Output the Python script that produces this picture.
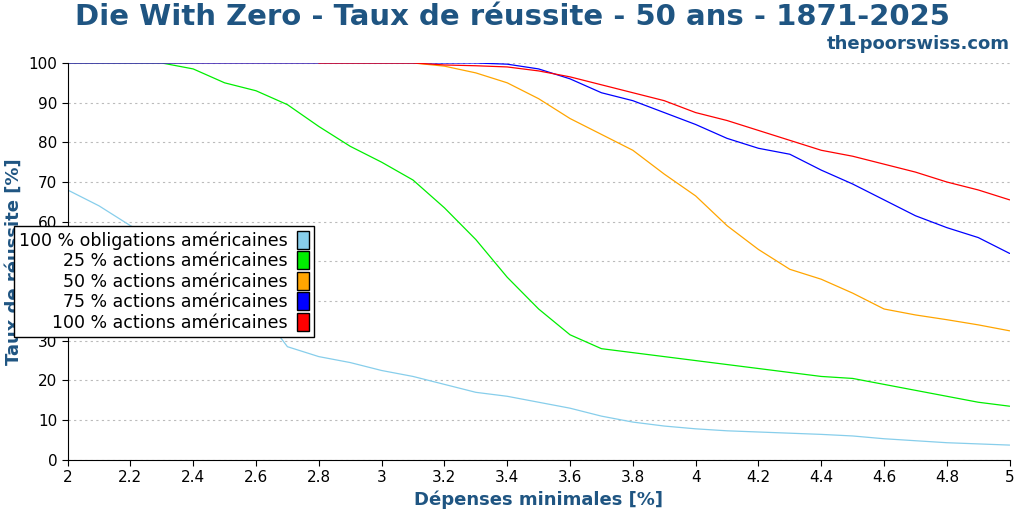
import numpy as np, pandas as pd, seaborn as sns, matplotlib
matplotlib.use("Agg")
import matplotlib.pyplot as plt

x = [round(2 + 0.1*i, 1) for i in range(31)]
bonds = [68,64,59,55,50,45,39,28.5,26,24.5,22.5,21,19,17,16,14.5,13,11,9.5,8.5,7.8,7.3,7,6.7,6.4,6,5.3,4.8,4.3,4,3.7]
s25 = [100,100,100,100,98.5,95,93,89.5,84,79,75,70.5,63.5,55.5,46,38,31.5,28,27,26,25,24,23,22,21,20.5,19,17.5,16,14.5,13.5]
s50 = [100]*12 + [99.2,97.5,95,91,86,82,78,72,66.5,59,53,48,45.5,42,38,36.5,35.3,34,32.5]
s75 = [100]*14 + [99.7,98.5,96,92.5,90.5,87.5,84.5,81,78.5,77,73,69.5,65.5,61.5,58.5,56,52]
s100 = [np.nan]*8 + [100]*4 + [99.5,99.3,99,98,96.5,94.5,92.5,90.5,87.5,85.5,83,80.5,78,76.5,74.5,72.5,70,68,65.5]
names = ["100 % obligations américaines","25 % actions américaines","50 % actions américaines","75 % actions américaines","100 % actions américaines"]
colors = ["skyblue","#00ee00","orange","blue","red"]

sns.set_style("white")
plt.rcParams.update({"text.color":"black","axes.labelcolor":"black","xtick.color":"black","ytick.color":"black"})
fig, ax = plt.subplots(figsize=(10.24,5.12), dpi=100)
fig.subplots_adjust(left=0.066, right=0.986, top=0.877, bottom=0.102)
for n, s, c in zip(names, [bonds,s25,s50,s75,s100], colors):
    sns.lineplot(x=x, y=s, color=c, lw=0.9, ax=ax, label=n)
ax.set_xlim(2,5); ax.set_ylim(0,100)
ax.set_xticks(np.arange(2,5.01,0.2)); ax.set_xticklabels([f"{v:g}" for v in np.arange(2,5.01,0.2).round(1)])
ax.set_yticks(range(0,101,10))
ax.yaxis.grid(True, ls=(0,(2,3)), color="#bbbbbb", lw=0.8)
for s in ["top","right"]: ax.spines[s].set_visible(False)
ax.spines["left"].set_color("black"); ax.spines["bottom"].set_color("black")
ax.tick_params(axis="both", direction="out", length=4, labelsize=11, left=True, bottom=True)
ax.set_xlabel("Dépenses minimales [%]", color="#1f5582", fontweight="bold", fontsize=13)
ax.set_ylabel("Taux de réussite [%]", color="#1f5582", fontweight="bold", fontsize=13)
from matplotlib.patches import Patch
h = [Patch(facecolor=c, edgecolor="black") for c in colors]
leg = ax.legend(h, names, loc="center left", bbox_to_anchor=(-0.066,0.45), markerfirst=False,
    fontsize=12.5, frameon=True, fancybox=False, edgecolor="black", framealpha=1,
    handlelength=0.7, handleheight=1.2, labelspacing=0.1, borderpad=0.3, handletextpad=0.5)
leg.get_frame().set_linewidth(1)
fig.text(0.5, 0.995, "Die With Zero - Taux de réussite - 50 ans - 1871-2025", color="#1f5582", fontweight="bold", fontsize=21, ha="center", va="top")
fig.text(0.986, 0.905, "thepoorswiss.com", color="#1f5582", fontweight="bold", fontsize=13, ha="right")
fig.savefig("out.png")
